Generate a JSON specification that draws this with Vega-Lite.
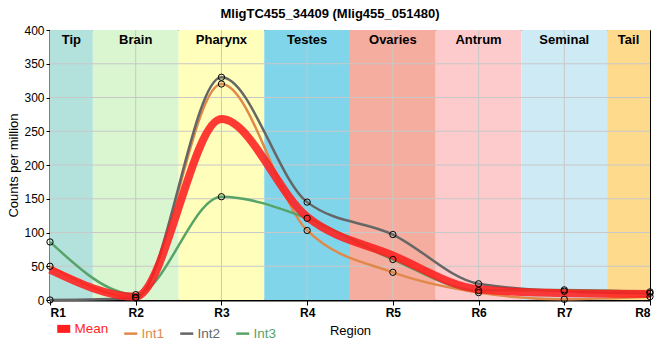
{
  "$schema": "https://vega.github.io/schema/vega-lite/v6.json",
  "width": 600,
  "height": 270,
  "autosize": {"type": "none"},
  "padding": {"left": 50, "top": 30, "right": 10, "bottom": 60},
  "title": {"text": "MligTC455_34409 (Mlig455_051480)", "fontSize": 13, "fontWeight": "bold", "font": "Liberation Sans", "color": "#000", "anchor": "middle", "dx": -20, "offset": 3},
  "config": {
    "font": "Liberation Sans",
    "view": {"stroke": "#000", "strokeWidth": 1},
    "axis": {"labelColor": "#000", "titleColor": "#000", "tickColor": "#000", "domainColor": "#000"}
  },
  "datasets": {
    "bands": [
      {"region": "Tip", "start": 1, "end": 1.5, "mid": 1.25},
      {"region": "Brain", "start": 1.5, "end": 2.5, "mid": 2},
      {"region": "Pharynx", "start": 2.5, "end": 3.5, "mid": 3},
      {"region": "Testes", "start": 3.5, "end": 4.5, "mid": 4},
      {"region": "Ovaries", "start": 4.5, "end": 5.5, "mid": 5},
      {"region": "Antrum", "start": 5.5, "end": 6.5, "mid": 6},
      {"region": "Seminal", "start": 6.5, "end": 7.5, "mid": 7},
      {"region": "Tail", "start": 7.5, "end": 8, "mid": 7.75}
    ],
    "ygrid": [{"v": 50}, {"v": 100}, {"v": 150}, {"v": 200}, {"v": 250}, {"v": 300}, {"v": 350}],
    "xgrid": [{"v": 2}, {"v": 3}, {"v": 4}, {"v": 5}, {"v": 6}, {"v": 7}],
    "series": [
      {"r": 1, "series": "Int1", "value": 50},
      {"r": 2, "series": "Int1", "value": 4},
      {"r": 3, "series": "Int1", "value": 320},
      {"r": 4, "series": "Int1", "value": 103},
      {"r": 5, "series": "Int1", "value": 41},
      {"r": 6, "series": "Int1", "value": 11},
      {"r": 7, "series": "Int1", "value": 1},
      {"r": 8, "series": "Int1", "value": 5},
      {"r": 1, "series": "Int2", "value": 0},
      {"r": 2, "series": "Int2", "value": 3},
      {"r": 3, "series": "Int2", "value": 330},
      {"r": 4, "series": "Int2", "value": 145},
      {"r": 5, "series": "Int2", "value": 97},
      {"r": 6, "series": "Int2", "value": 24},
      {"r": 7, "series": "Int2", "value": 13},
      {"r": 8, "series": "Int2", "value": 10},
      {"r": 1, "series": "Int3", "value": 86},
      {"r": 2, "series": "Int3", "value": 8},
      {"r": 3, "series": "Int3", "value": 153},
      {"r": 4, "series": "Int3", "value": 121},
      {"r": 5, "series": "Int3", "value": 60},
      {"r": 6, "series": "Int3", "value": 14},
      {"r": 7, "series": "Int3", "value": 15},
      {"r": 8, "series": "Int3", "value": 12},
      {"r": 1, "series": "Mean", "value": 45},
      {"r": 2, "series": "Mean", "value": 5},
      {"r": 3, "series": "Mean", "value": 268},
      {"r": 4, "series": "Mean", "value": 123},
      {"r": 5, "series": "Mean", "value": 66},
      {"r": 6, "series": "Mean", "value": 16},
      {"r": 7, "series": "Mean", "value": 10},
      {"r": 8, "series": "Mean", "value": 9}
    ]
  },
  "encoding": {
    "x": {
      "type": "quantitative",
      "scale": {"domain": [1, 8], "nice": false, "zero": false},
      "axis": {"values": [1, 2, 3, 4, 5, 6, 7, 8], "labelExpr": "'R' + datum.value", "grid": false, "domainWidth": 2, "tickSize": 5, "labelFontSize": 12, "labelFontWeight": "bold", "labelPadding": 2, "title": "Region", "titleFontSize": 13, "titleFontWeight": "normal", "titlePadding": 6, "titleX": 300}
    },
    "y": {
      "type": "quantitative",
      "scale": {"domain": [0, 400], "nice": false},
      "axis": {"values": [0, 50, 100, 150, 200, 250, 300, 350, 400], "grid": false, "domainWidth": 2, "tickSize": 4, "labelFontSize": 12, "labelPadding": 2, "title": "Counts per million", "titleFontSize": 13, "titleFontWeight": "normal", "titlePadding": 3}
    }
  },
  "layer": [
    {
      "data": {"name": "bands"},
      "mark": {"type": "rect"},
      "encoding": {
        "x": {"field": "start"},
        "x2": {"field": "end"},
        "fill": {"field": "region", "type": "nominal", "legend": null,
          "scale": {"domain": ["Tip", "Brain", "Pharynx", "Testes", "Ovaries", "Antrum", "Seminal", "Tail"],
                    "range": ["#b3e2dd", "#d9f6d0", "#ffffbb", "#80d5eb", "#f5ad9f", "#fdcbcb", "#ceeaf5", "#fdda8c"]}}
      }
    },
    {
      "data": {"name": "ygrid"},
      "mark": {"type": "rule", "color": "#c8c8c8", "strokeWidth": 1},
      "encoding": {"y": {"field": "v"}}
    },
    {
      "data": {"name": "xgrid"},
      "mark": {"type": "rule", "color": "#c8c8c8", "strokeWidth": 1},
      "encoding": {"x": {"field": "v"}}
    },
    {
      "data": {"name": "bands"},
      "mark": {"type": "text", "fontSize": 13, "fontWeight": "bold", "baseline": "top", "dy": 4, "color": "#000"},
      "encoding": {
        "x": {"field": "mid"},
        "y": {"datum": 400},
        "text": {"field": "region"}
      }
    },
    {
      "data": {"name": "series"},
      "transform": [{"filter": "datum.series != 'Mean'"}],
      "mark": {"type": "line", "interpolate": "monotone", "strokeWidth": 2.5},
      "encoding": {
        "x": {"field": "r"},
        "y": {"field": "value"},
        "detail": {"field": "series"},
        "stroke": {"field": "series", "type": "nominal",
          "scale": {"domain": ["Mean", "Int1", "Int2", "Int3"], "range": ["#ff1f1f", "#e0894a", "#666666", "#58a468"]},
          "legend": {"title": null, "orient": "none", "direction": "horizontal", "legendX": 7, "legendY": 292, "symbolType": "stroke", "symbolSize": 170, "labelFontSize": 13.5, "columnPadding": 10, "symbolOpacity": 1,
            "encode": {
              "labels": {"update": {"fill": {"scale": "stroke", "field": "value"}}},
              "symbols": {"update": {"strokeWidth": {"signal": "datum.value === 'Mean' ? 8 : 2.5"}}}
            }}}
      }
    },
    {
      "data": {"name": "series"},
      "transform": [{"filter": "datum.series == 'Mean'"}],
      "mark": {"type": "line", "interpolate": "monotone", "opacity": 0.88, "strokeWidth": 8},
      "encoding": {
        "x": {"field": "r"},
        "y": {"field": "value"},
        "stroke": {"field": "series", "type": "nominal"}
      }
    },
    {
      "data": {"name": "series"},
      "transform": [{"filter": "datum.series != 'Mean'"}],
      "mark": {"type": "point", "shape": "circle", "filled": false, "stroke": "#000", "strokeWidth": 1, "size": 40, "opacity": 1},
      "encoding": {
        "x": {"field": "r"},
        "y": {"field": "value"}
      }
    }
  ]
}
